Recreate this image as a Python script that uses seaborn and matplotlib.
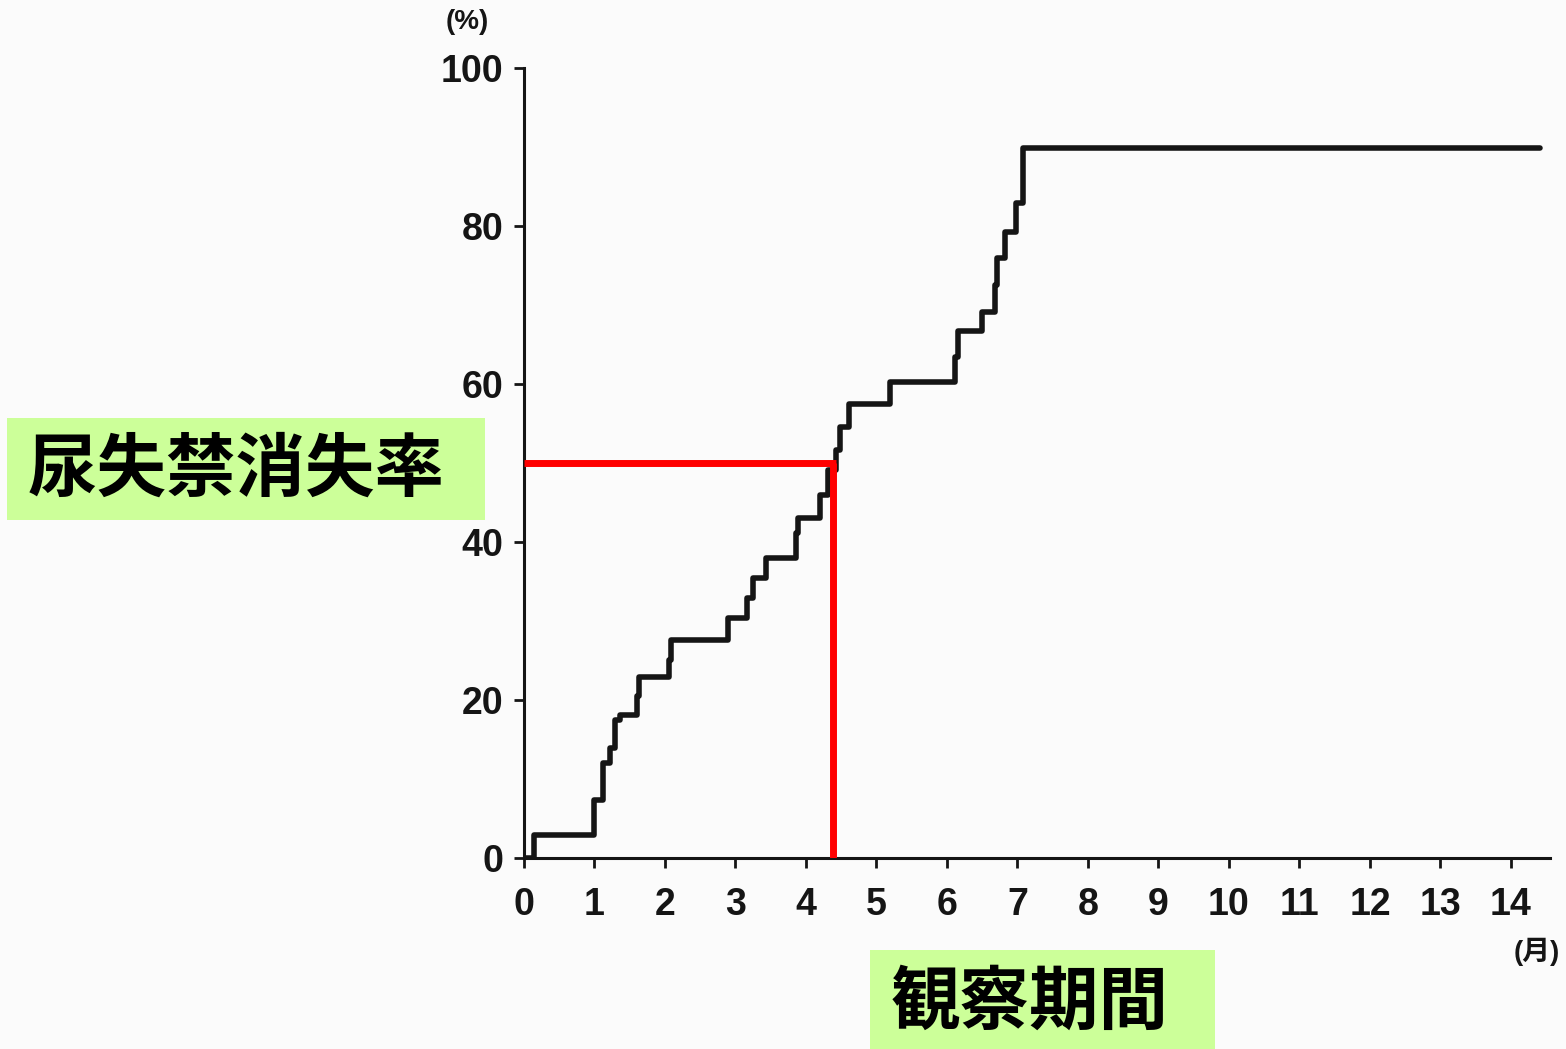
import matplotlib
matplotlib.use("Agg")
import matplotlib.pyplot as plt
import seaborn as sns
import pandas as pd

# step curve (months, % continence recovered)
months = [0, 0.14, 0.99, 1.12, 1.22, 1.29, 1.36, 1.60, 1.63, 2.05, 2.08, 2.90,
          3.16, 3.25, 3.44, 3.86, 3.88, 4.20, 4.31, 4.42, 4.48, 4.61, 5.19,
          6.12, 6.15, 6.49, 6.68, 6.71, 6.82, 6.98, 7.08, 14.41]
rates = [0, 2.9, 7.3, 12.0, 13.9, 17.5, 18.1, 20.5, 22.9, 25.0, 27.6, 30.4,
         32.9, 35.4, 38.0, 41.1, 43.0, 46.0, 49.1, 51.6, 54.6, 57.5, 60.3,
         63.4, 66.7, 69.1, 72.5, 76.0, 79.2, 82.9, 89.9, 89.9]

median_month = 4.38
median_rate = 50

x_ticks = list(range(0, 15))
y_ticks = [0, 20, 40, 60, 80, 100]

ylabel = "尿失禁消失率"
xlabel = "観察期間"

df = pd.DataFrame({"month": months, "rate": rates})

sns.set_theme(style="ticks")
plt.rcParams["font.family"] = ["Liberation Sans", "Noto Sans CJK JP", "DejaVu Sans"]

fig = plt.figure(figsize=(15.66, 10.49), dpi=100, facecolor="#fbfbfb")
ax = fig.add_axes([0.3346, 0.1821, 0.655, 0.7531])
ax.set_facecolor("#fbfbfb")

sns.lineplot(data=df, x="month", y="rate", ax=ax, color="#151515",
             linewidth=4.0, drawstyle="steps-post", zorder=2)

# median lines
ax.plot([0, median_month + 0.04], [median_rate, median_rate], color="#ff0000",
        linewidth=5, solid_capstyle="butt", zorder=3)
ax.plot([median_month, median_month], [0, median_rate], color="#ff0000",
        linewidth=5, solid_capstyle="butt", zorder=3)

ax.set_xlim(0, 14.55)
ax.set_ylim(0, 100)
ax.set_xticks(x_ticks)
ax.set_yticks(y_ticks)
ax.set_xticklabels([str(t) for t in x_ticks], fontsize=27, fontweight="bold")
ax.set_yticklabels([str(t) for t in y_ticks], fontsize=27, fontweight="bold")
ax.tick_params(axis="x", direction="out", length=7, width=2, colors="#151515", pad=14)
ax.tick_params(axis="y", direction="out", length=7, width=2, colors="#151515", pad=8)
ax.set_xlabel("")
ax.set_ylabel("")
sns.despine(ax=ax)
for s in ["left", "bottom"]:
    ax.spines[s].set_linewidth(2.2)
    ax.spines[s].set_color("#151515")

fig.text(467 / 1566, 1 - 22 / 1049, "(%)", fontsize=20, fontweight="bold",
         ha="center", va="center", color="#151515")
fig.text(1537 / 1566, 1 - 952 / 1049, "(月)", fontsize=20, fontweight="bold",
         ha="center", va="center", color="#151515",
         family=["Liberation Sans", "Noto Sans CJK JP"])

# green label boxes
fig.patches.append(plt.Rectangle((7 / 1566, 1 - 520 / 1049), 478 / 1566, 102 / 1049,
                                 transform=fig.transFigure, facecolor="#ccff99",
                                 edgecolor="none", zorder=0))
fig.patches.append(plt.Rectangle((870 / 1566, 0), 345 / 1566, 99 / 1049,
                                 transform=fig.transFigure, facecolor="#ccff99",
                                 edgecolor="none", zorder=0))
fig.text(236 / 1566, 1 - 470 / 1049, ylabel, fontsize=50, fontweight="bold",
         ha="center", va="center", color="black", family=["Noto Sans CJK JP"])
fig.text(1030 / 1566, 1 - 1003 / 1049, xlabel, fontsize=50, fontweight="bold",
         ha="center", va="center", color="black", family=["Noto Sans CJK JP"])

fig.savefig("out.png", dpi=100, facecolor=fig.get_facecolor())
